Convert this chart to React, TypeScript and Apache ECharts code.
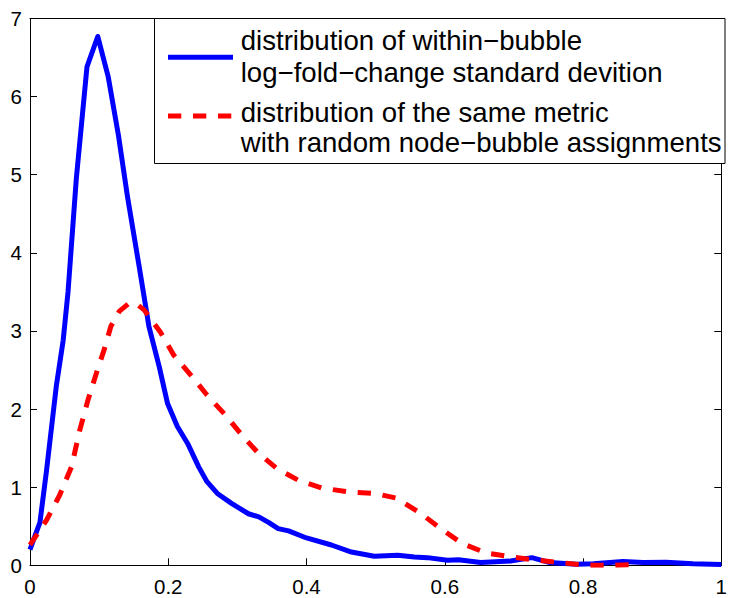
import React, { useEffect, useRef } from "react";
import * as echarts from "echarts";

// Blue: distribution of within-bubble log-fold-change standard deviation
const blueX = [0, 0.004, 0.0144, 0.024, 0.038, 0.048, 0.055, 0.067, 0.0824, 0.098, 0.113, 0.128, 0.141, 0.158, 0.172, 0.187, 0.199, 0.213, 0.228, 0.244, 0.256, 0.271, 0.292, 0.316, 0.331, 0.345, 0.359, 0.374, 0.4, 0.436, 0.465, 0.498, 0.532, 0.556, 0.575, 0.604, 0.62, 0.652, 0.695, 0.726, 0.752, 0.79, 0.815, 0.858, 0.887, 0.92, 0.959, 1.0];
const blueY = [0.2, 0.3, 0.55, 1.22, 2.29, 2.88, 3.5, 4.95, 6.38, 6.77, 6.26, 5.5, 4.72, 3.82, 3.06, 2.54, 2.07, 1.78, 1.56, 1.26, 1.07, 0.92, 0.79, 0.66, 0.62, 0.55, 0.47, 0.44, 0.35, 0.26, 0.17, 0.115, 0.13, 0.107, 0.098, 0.064, 0.07, 0.035, 0.055, 0.098, 0.035, 0.013, 0.02, 0.05, 0.035, 0.038, 0.02, 0.01];

// Red: distribution of the same metric with random node-bubble assignments
const redX = [0, 0.012, 0.024, 0.043, 0.06, 0.072, 0.084, 0.096, 0.108, 0.117, 0.129, 0.144, 0.155, 0.165, 0.189, 0.208, 0.235, 0.256, 0.283, 0.309, 0.331, 0.357, 0.388, 0.422, 0.46, 0.498, 0.53, 0.566, 0.594, 0.625, 0.659, 0.695, 0.728, 0.767, 0.805, 0.843, 0.87];
const redY = [0.26, 0.42, 0.58, 0.9, 1.26, 1.73, 2.12, 2.46, 2.78, 3.06, 3.25, 3.36, 3.34, 3.27, 2.98, 2.69, 2.41, 2.18, 1.92, 1.64, 1.43, 1.24, 1.09, 0.99, 0.94, 0.92, 0.86, 0.66, 0.47, 0.28, 0.16, 0.11, 0.07, 0.035, 0.0, 0.0, 0.01];

const legendLines = [
  ["distribution of within\u2212bubble", "log\u2212fold\u2212change standard devition"],
  ["distribution of the same metric", "with random node\u2212bubble assignments"],
];

const FONT = "'Liberation Sans', Arial, Helvetica, sans-serif";

export default function App() {
  const ref = useRef<HTMLDivElement>(null);
  useEffect(() => {
    if (!ref.current) return;
    const chart = echarts.init(ref.current, undefined, { renderer: "svg" });
    const pair = (xs: number[], ys: number[]) => xs.map((x, i) => [x, ys[i]]);
    const axisCommon = {
      type: "value" as const,
      axisLine: { show: true, onZero: false, lineStyle: { color: "#000", width: 1 } },
      axisTick: { show: true, inside: true, length: 7, lineStyle: { color: "#000", width: 1 } },
      splitLine: { show: false },
    };
    const labelStyle = { color: "#000", fontSize: 20.5, fontFamily: FONT };
    const textBase = 240.7;
    const baselines = [50, 81.7, 121.7, 151.7];
    const fs = 27.6;
    const texts: any[] = [];
    legendLines.flat().forEach((t, i) => {
      texts.push({
        type: "text",
        x: textBase,
        y: baselines[i] - 0.3465 * fs,
        z: 101,
        style: { text: t, fill: "#000", font: `${fs}px ${FONT}`, verticalAlign: "middle", align: "left" },
      });
    });
    chart.setOption({
      animation: false,
      backgroundColor: "#fff",
      grid: { left: 30, right: 5, top: 18.5, bottom: 32.7, containLabel: false },
      xAxis: [
        { ...axisCommon, position: "bottom", min: 0, max: 1, interval: 0.2, axisLabel: { ...labelStyle, margin: 11 } },
        { ...axisCommon, position: "top", min: 0, max: 1, interval: 0.2, axisLabel: { show: false } },
      ],
      yAxis: [
        { ...axisCommon, position: "left", min: 0, max: 7, interval: 1, axisLabel: { ...labelStyle, margin: 8 } },
        { ...axisCommon, position: "right", min: 0, max: 7, interval: 1, axisLabel: { show: false } },
      ],
      series: [
        {
          type: "line",
          data: pair(blueX, blueY),
          showSymbol: false,
          symbol: "none",
          z: 2,
          lineStyle: { color: "#0000ff", width: 5, join: "round", cap: "butt" },
        },
        {
          type: "line",
          data: pair(redX, redY),
          showSymbol: false,
          symbol: "none",
          z: 3,
          lineStyle: { color: "#ff0000", width: 5, type: [13.3, 11.7], join: "round", cap: "butt" },
        },
      ],
      graphic: [
        {
          type: "rect",
          z: 100,
          shape: { x: 154.5, y: 18.5, width: 570.5, height: 145 },
          style: { fill: "#fff", stroke: "#000", lineWidth: 1 },
        },
        {
          type: "line",
          z: 101,
          shape: { x1: 168, y1: 57.3, x2: 233, y2: 57.3 },
          style: { stroke: "#0000ff", lineWidth: 5 },
        },
        {
          type: "line",
          z: 101,
          shape: { x1: 168, y1: 116, x2: 232, y2: 116 },
          style: { stroke: "#ff0000", lineWidth: 5, lineDash: [13.3, 11.7] },
        },
        ...texts,
      ],
    });
    return () => chart.dispose();
  }, []);
  return (
    <div
      ref={ref}
      style={{ position: "absolute", left: 0, top: 0, width: 730, height: 598, background: "#fff" }}
    />
  );
}
